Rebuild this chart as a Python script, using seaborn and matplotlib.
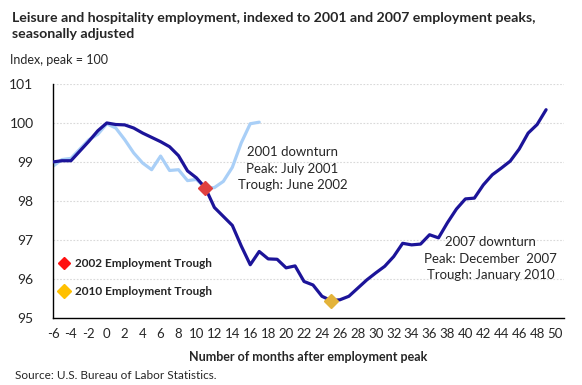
import matplotlib
matplotlib.use("Agg")
import matplotlib.pyplot as plt
from matplotlib.lines import Line2D
import seaborn as sns
import pandas as pd

# 2007 downturn: months after Dec 2007 peak
months_2007 = list(range(-6, 50))
index_2007 = [99.00, 99.03, 99.03, 99.28, 99.53, 99.80, 100.00, 99.96, 99.95, 99.87,
              99.74, 99.63, 99.52, 99.39, 99.16, 98.77, 98.59, 98.33, 97.83, 97.60,
              97.37, 96.84, 96.36, 96.70, 96.51, 96.50, 96.28, 96.33, 95.93, 95.84,
              95.55, 95.44, 95.46, 95.55, 95.76, 95.97, 96.15, 96.32, 96.57, 96.91,
              96.87, 96.89, 97.13, 97.05, 97.44, 97.79, 98.05, 98.07, 98.41, 98.67,
              98.84, 99.02, 99.33, 99.74, 99.96, 100.34]

# 2001 downturn: months after Jul 2001 peak
months_2001 = list(range(-6, 18))
index_2001 = [98.89, 99.06, 99.09, 99.33, 99.57, 99.71, 99.98, 99.87, 99.57, 99.23,
              98.97, 98.80, 99.15, 98.78, 98.80, 98.52, 98.55, 98.33, 98.34, 98.50,
              98.86, 99.49, 99.98, 100.02]

# troughs
trough_2002 = (11, 98.33)
trough_2010 = (25, 95.44)

dark = "#1c1499"
light = "#a9cff7"

df07 = pd.DataFrame({"month": months_2007, "index": index_2007})
df01 = pd.DataFrame({"month": months_2001, "index": index_2001})

sns.set_style("white")
plt.rcParams["font.family"] = ["Lato", "DejaVu Sans"]

fig = plt.figure(figsize=(5.82, 3.85), dpi=100)
ax = fig.add_axes([0.0911, 0.1748, 0.8780, 0.6070])

for v in range(96, 102):
    ax.axhline(v, color="#d9d9d9", lw=0.8, ls=(0, (1.5, 1.5)), zorder=0)

sns.lineplot(data=df01, x="month", y="index", color=light, lw=2.3, ax=ax, zorder=2)
sns.lineplot(data=df07, x="month", y="index", color=dark, lw=2.3, ax=ax, zorder=3)

ax.plot(*trough_2002, marker="D", ms=7, color="#e0403f", ls="none", zorder=4)
ax.plot(*trough_2010, marker="D", ms=7, color="#e3b33a", ls="none", zorder=4)

ax.set_xlim(-6, 51)
ax.set_ylim(95, 101)
ax.set_xticks(range(-6, 52))
ax.set_xticklabels([str(m) if m % 2 == 0 and m <= 50 else "" for m in range(-6, 52)], fontsize=9.5)
ax.set_yticks(range(95, 102))
ax.set_yticklabels([str(v) for v in range(95, 102)], fontsize=10)
ax.tick_params(axis="x", direction="out", length=3.5, width=0.8, color="black", pad=4)
ax.tick_params(axis="y", length=0, pad=14)

for s in ["top", "right"]:
    ax.spines[s].set_visible(False)
for s in ["left", "bottom"]:
    ax.spines[s].set_color("black")
    ax.spines[s].set_linewidth(1.0)

ax.set_xlabel("Number of months after employment peak", fontsize=9, fontweight="bold", labelpad=8)
ax.set_ylabel("")

ax.text(20.7, 98.83, "2001 downturn\nPeak: July 2001\nTrough: June 2002",
        ha="center", va="center", fontsize=9.5, linespacing=1.45)
ax.text(42.8, 96.51, "2007 downturn\nPeak: December  2007\nTrough: January 2010",
        ha="center", va="center", fontsize=9.5, linespacing=1.45)

handles = [Line2D([], [], marker="D", ms=6, color="#ff1010", ls="none"),
           Line2D([], [], marker="D", ms=7, color="#ffc000", ls="none")]
ax.legend(handles, ["2002 Employment Trough", "2010 Employment Trough"],
          loc="upper left", bbox_to_anchor=(-0.013, 0.30), frameon=False,
          prop={"size": 8.5, "weight": "bold"}, handletextpad=0.3,
          labelspacing=1.4, handlelength=1.2)

fig.text(0.021, 0.97, "Leisure and hospitality employment, indexed to 2001 and 2007 employment peaks,\nseasonally adjusted",
         ha="left", va="top", fontsize=10.2, fontweight="bold", linespacing=1.45)
fig.text(0.017, 0.845, "Index, peak = 100", ha="left", va="center", fontsize=9)
fig.text(0.026, 0.025, "Source: U.S. Bureau of Labor Statistics.", ha="left", va="center", fontsize=8.5)

fig.savefig("out.png", dpi=100)
